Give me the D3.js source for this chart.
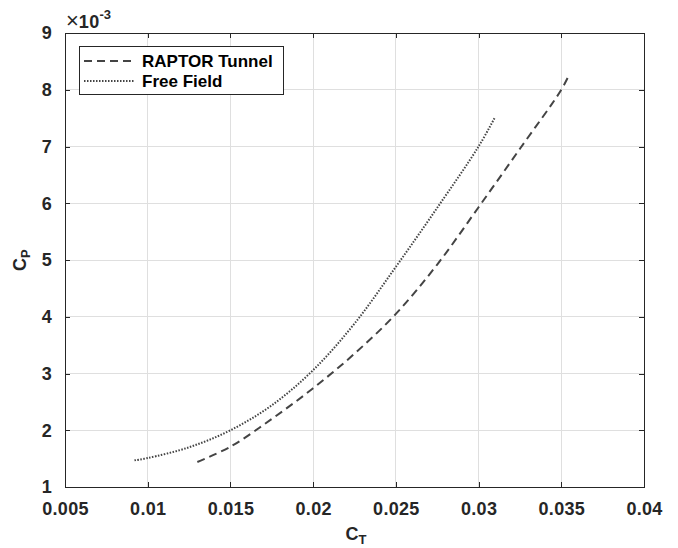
<!DOCTYPE html>
<html>
<head>
<meta charset="utf-8">
<script src="https://cdn.jsdelivr.net/npm/d3@7"></script>
<style>
  html, body { margin: 0; padding: 0; background: #fff; }
  svg { display: block; }
  text { font-family: "Liberation Sans", Arial, Helvetica, sans-serif; font-weight: bold; fill: #262626; }
</style>
</head>
<body>
<script>
// Thrust coefficient vs power coefficient
const ctTunnel = [0.0130, 0.0150, 0.0175, 0.0200, 0.0225, 0.0250, 0.0275, 0.0300, 0.0325, 0.0350, 0.0355];
const cpTunnel = [0.00144, 0.00171, 0.00220, 0.00274, 0.00335, 0.00405, 0.00492, 0.00593, 0.00696, 0.00800, 0.00828];

const ctFree = [0.0092, 0.0100, 0.0125, 0.0150, 0.0175, 0.0200, 0.0225, 0.0250, 0.0275, 0.0300, 0.0310];
const cpFree = [0.00147, 0.00151, 0.00170, 0.00200, 0.00244, 0.00306, 0.00388, 0.00488, 0.00592, 0.00700, 0.00752];

const seriesNames = ["RAPTOR Tunnel", "Free Field"];
const xTicks = [0.005, 0.01, 0.015, 0.02, 0.025, 0.03, 0.035, 0.04];
const xTickLabels = ["0.005", "0.01", "0.015", "0.02", "0.025", "0.03", "0.035", "0.04"];
const yTicks = [0.001, 0.002, 0.003, 0.004, 0.005, 0.006, 0.007, 0.008, 0.009];
const yTickLabels = ["1", "2", "3", "4", "5", "6", "7", "8", "9"];

const W = 678, H = 548;
const m = { left: 65, right: 34, top: 33, bottom: 61 };
const iw = W - m.left - m.right, ih = H - m.top - m.bottom;

const svg = d3.select("body").append("svg").attr("width", W).attr("height", H);
const g = svg.append("g").attr("transform", `translate(${m.left},${m.top})`);

const x = d3.scaleLinear().domain([0.005, 0.04]).range([0, iw]);
const y = d3.scaleLinear().domain([0.001, 0.009]).range([ih, 0]);

// grid
g.append("g").selectAll("line").data(xTicks.slice(1, -1)).join("line")
  .attr("x1", d => x(d)).attr("x2", d => x(d)).attr("y1", 0).attr("y2", ih)
  .attr("stroke", "#dfdfdf").attr("stroke-width", 1).attr("shape-rendering", "crispEdges");
g.append("g").selectAll("line").data(yTicks.slice(1, -1)).join("line")
  .attr("y1", d => y(d)).attr("y2", d => y(d)).attr("x1", 0).attr("x2", iw)
  .attr("stroke", "#dfdfdf").attr("stroke-width", 1).attr("shape-rendering", "crispEdges");

// axes with inward ticks on all four sides
const tickLen = 5;
const xAxisB = d3.axisBottom(x).tickValues(xTicks).tickSize(-tickLen).tickPadding(tickLen + 10)
  .tickFormat((d, i) => xTickLabels[i]);
const yAxisL = d3.axisLeft(y).tickValues(yTicks).tickSize(-tickLen).tickPadding(tickLen + 8)
  .tickFormat((d, i) => yTickLabels[i]);
const xAxisT = d3.axisTop(x).tickValues(xTicks).tickSize(-tickLen).tickFormat("");
const yAxisR = d3.axisRight(y).tickValues(yTicks).tickSize(-tickLen).tickFormat("");

function styleAxis(sel) {
  sel.select(".domain").attr("stroke", "#262626").attr("stroke-width", 1);
  sel.selectAll(".tick line").attr("stroke", "#262626").attr("stroke-width", 1);
  sel.selectAll(".tick text").attr("fill", "#262626")
    .style("font-size", "18px").style("font-weight", "bold").style("letter-spacing", "0.3px");
}

g.append("g").attr("transform", `translate(0,${ih})`).call(xAxisB).call(styleAxis);
g.append("g").call(yAxisL).call(styleAxis);
g.append("g").call(xAxisT).call(styleAxis);
g.append("g").attr("transform", `translate(${iw},0)`).call(yAxisR).call(styleAxis);
g.selectAll(".tick line").attr("shape-rendering", "crispEdges");
g.selectAll(".domain").attr("shape-rendering", "crispEdges");

// curves
const lineColor = "#444444";
const line = d3.line().x(d => x(d[0])).y(d => y(d[1])).curve(d3.curveCatmullRom.alpha(0.5));
const tunnel = ctTunnel.map((c, i) => [c, cpTunnel[i]]);
const free = ctFree.map((c, i) => [c, cpFree[i]]);

g.append("path").datum(tunnel).attr("d", line)
  .attr("fill", "none").attr("stroke", lineColor).attr("stroke-width", 2)
  .attr("stroke-dasharray", "8,5");
g.append("path").datum(free).attr("d", line)
  .attr("fill", "none").attr("stroke", lineColor).attr("stroke-width", 2)
  .attr("stroke-dasharray", "1.5,1.5");

// exponent label
const ex = svg.append("text").attr("x", m.left + 1).attr("y", 28).style("font-size", "18px");
ex.append("tspan").text("\u00d7").style("font-weight", "normal").style("font-size", "22px");
ex.append("tspan").text("10").style("letter-spacing", "0.3px");
ex.append("tspan").text("-3").attr("dy", -9).style("font-size", "13px");

// axis titles
const xt = svg.append("text").attr("x", m.left + iw / 2 - 9).attr("y", 540)
  .style("font-size", "18px");
xt.append("tspan").text("C");
xt.append("tspan").text("T").attr("dy", 4).style("font-size", "13px");

const yt = svg.append("text").attr("transform", `translate(26,${m.top + ih / 2 + 11}) rotate(-90)`)
  .style("font-size", "18px");
yt.append("tspan").text("C");
yt.append("tspan").text("P").attr("dy", 4).style("font-size", "13px");

// legend
const lg = svg.append("g");
lg.append("rect").attr("x", 79.5).attr("y", 46.5).attr("width", 204).attr("height", 48)
  .attr("fill", "#fff").attr("stroke", "#262626").attr("stroke-width", 1);
const styles = ["8,5", "1.5,1.5"];
const rowsY = [61, 81];
seriesNames.forEach((name, i) => {
  lg.append("line").attr("x1", 84).attr("x2", 135).attr("y1", rowsY[i]).attr("y2", rowsY[i])
    .attr("stroke", lineColor).attr("stroke-width", 2).attr("stroke-dasharray", styles[i]);
  lg.append("text").attr("x", 142).attr("y", rowsY[i] + 5.5).text(name)
    .style("font-size", "17px").style("fill", "#000");
});
</script>
</body>
</html>
